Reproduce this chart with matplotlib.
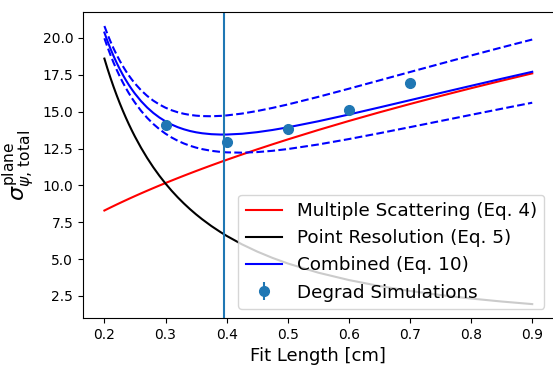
import matplotlib
matplotlib.use("Agg")
import matplotlib.pyplot as plt

# fit length grid [cm]
fit_length = [0.20, 0.205, 0.21, 0.215, 0.22, 0.225, 0.23, 0.235, 0.24, 0.245, 0.25,
              0.26, 0.27, 0.28, 0.29, 0.30, 0.31, 0.32, 0.33, 0.34, 0.35, 0.36,
              0.375, 0.39, 0.40, 0.425, 0.45, 0.475, 0.50,
              0.55, 0.60, 0.65, 0.70, 0.75, 0.80, 0.85, 0.90]

multiple_scattering = [8.296, 8.399, 8.501, 8.601, 8.701, 8.799, 8.896, 8.992, 9.088, 9.182,
                       9.275, 9.459, 9.639, 9.816, 9.990, 10.160, 10.328, 10.493, 10.656,
                       10.816, 10.974, 11.130, 11.359, 11.584, 11.732, 12.093, 12.444,
                       12.785, 13.117, 13.757, 14.369, 14.956, 15.520, 16.065, 16.592,
                       17.102, 17.598]
point_resolution = [18.600, 17.923, 17.287, 16.688, 16.122, 15.587, 15.082, 14.603, 14.149,
                    13.718, 13.309, 12.548, 11.858, 11.228, 10.652, 10.124, 9.638, 9.190,
                    8.776, 8.391, 8.034, 7.702, 7.244, 6.831, 6.576, 6.004, 5.511, 5.082,
                    4.705, 4.079, 3.580, 3.174, 2.841, 2.561, 2.325, 2.123, 1.948]
combined = [20.366, 19.793, 19.264, 18.774, 18.320, 17.899, 17.510, 17.150, 16.816, 16.507,
            16.222, 15.714, 15.281, 14.914, 14.604, 14.343, 14.127, 13.948, 13.805, 13.689,
            13.601, 13.535, 13.473, 13.448, 13.449, 13.501, 13.610, 13.758, 13.936, 14.349,
            14.808, 15.289, 15.778, 16.268, 16.754, 17.234, 17.705]
combined_upper = [20.810, 20.261, 19.756, 19.290, 18.861, 18.464, 18.101, 17.765, 17.456,
                  17.172, 16.912, 16.452, 16.069, 15.748, 15.485, 15.269, 15.096, 14.960,
                  14.857, 14.781, 14.730, 14.700, 14.690, 14.714, 14.746, 14.870, 15.045,
                  15.255, 15.488, 16.005, 16.557, 17.122, 17.690, 18.253, 18.810, 19.357,
                  19.893]
combined_lower = [19.981, 19.387, 18.836, 18.324, 17.848, 17.404, 16.993, 16.609, 16.253,
                  15.921, 15.613, 15.058, 14.580, 14.166, 13.812, 13.507, 13.248, 13.028,
                  12.843, 12.689, 12.562, 12.460, 12.345, 12.271, 12.240, 12.219, 12.259,
                  12.345, 12.465, 12.775, 13.142, 13.538, 13.950, 14.367, 14.785, 15.199,
                  15.608]

sim_length = [0.3, 0.4, 0.5, 0.6, 0.7]
sim_sigma = [14.11, 12.94, 13.80, 15.10, 16.95]
sim_err = [0.3, 0.3, 0.3, 0.3, 0.3]

optimum_length = 0.395

fig = plt.figure(figsize=(5.53, 3.67), dpi=100)
# right edge of the axes sits just past the image border, as in the original crop
ax = fig.add_axes([0.1501, 0.1335, 0.851, 0.8335])

ax.plot(fit_length, multiple_scattering, color="red", label="Multiple Scattering (Eq. 4)")
ax.plot(fit_length, point_resolution, color="black", label="Point Resolution (Eq. 5)")
ax.plot(fit_length, combined, color="blue", label="Combined (Eq. 10)")
ax.plot(fit_length, combined_upper, color="blue", linestyle="--")
ax.plot(fit_length, combined_lower, color="blue", linestyle="--")
ax.errorbar(sim_length, sim_sigma, yerr=sim_err, fmt="o", markersize=7, color="C0",
            label="Degrad Simulations")
ax.axvline(optimum_length, color="C0")

ax.set_xlabel("Fit Length [cm]", fontsize=13)
ax.set_ylabel(r"$\sigma_{\psi,\,\mathrm{total}}^{\mathrm{plane}}$", fontsize=16)
ax.legend(loc="lower right", fontsize=13.2)

fig.savefig("out.png", dpi=100)
